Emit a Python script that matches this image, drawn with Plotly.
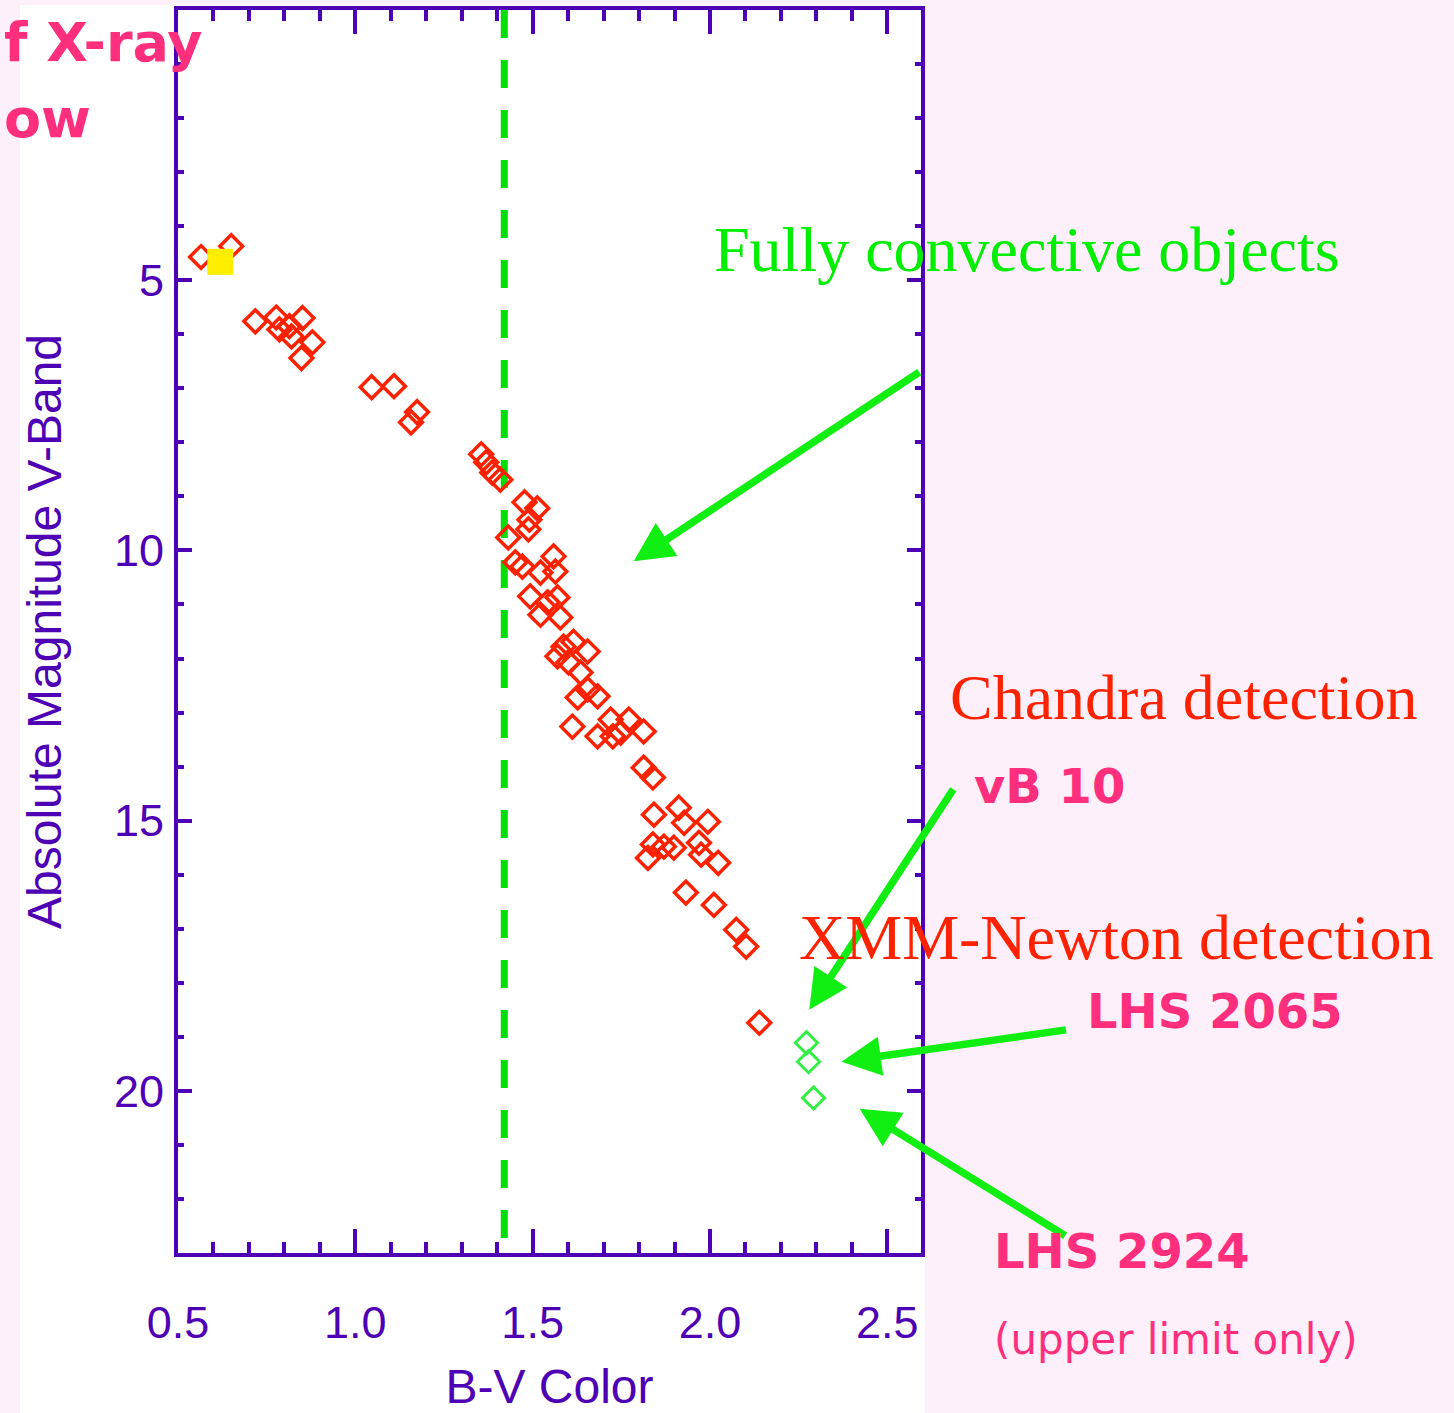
import plotly.graph_objects as go

# ---------------- data ----------------
# X-ray detected stars (red open diamonds): B-V colour and absolute V magnitude
red_bv = [0.565, 0.650, 0.718, 0.777, 0.851, 0.786, 0.814, 0.820, 0.879, 0.848,
          1.046, 1.109, 1.157, 1.174,
          1.355, 1.369, 1.386, 1.409,
          1.477, 1.513, 1.491, 1.431, 1.488,
          1.451, 1.471, 1.522, 1.559, 1.564,
          1.493, 1.542, 1.570, 1.522, 1.578,
          1.587, 1.615, 1.655, 1.570, 1.601, 1.635, 1.655, 1.683, 1.627,
          1.612, 1.683, 1.720, 1.748, 1.771, 1.813, 1.726,
          1.813, 1.839,
          1.842, 1.912, 1.927, 1.994,
          1.839, 1.870, 1.898, 1.825, 1.969, 1.975, 2.023,
          1.932, 2.011, 2.074, 2.102, 2.139]
red_mv = [4.57, 4.37, 5.76, 5.69, 5.70, 5.91, 5.85, 6.04, 6.15, 6.44,
          6.98, 6.96, 7.63, 7.44,
          8.22, 8.37, 8.56, 8.69,
          9.11, 9.22, 9.43, 9.76, 9.61,
          10.22, 10.30, 10.41, 10.11, 10.39,
          10.85, 10.96, 10.87, 11.19, 11.24,
          11.78, 11.69, 11.87, 11.96, 12.07, 12.26, 12.57, 12.70, 12.72,
          13.26, 13.44, 13.13, 13.37, 13.13, 13.35, 13.44,
          14.02, 14.20,
          14.89, 14.76, 15.04, 15.02,
          15.44, 15.48, 15.50, 15.69, 15.41, 15.63, 15.78,
          16.33, 16.56, 17.02, 17.33, 18.74]

# very late objects (green open diamonds)
green_bv = [2.272, 2.278, 2.292]
green_mv = [19.11, 19.46, 20.13]

# the Sun (yellow square)
sun_bv = [0.619]
sun_mv = [4.66]

# fully convective boundary
boundary_bv = 1.42
boundary_mv = [0, 23]

x_ticks = [0.5, 1.0, 1.5, 2.0, 2.5]
x_ticklabels = ["0.5", "1.0", "1.5", "2.0", "2.5"]
y_ticks = [0, 5, 10, 15, 20]
y_ticklabels = ["0", "5", "10", "15", "20"]

# arrow targets (data coords) and tail offsets (pixels)
arrow_bv = [1.785, 2.280, 2.371, 2.422]
arrow_mv = [10.20, 18.50, 19.46, 20.33]
arrow_dx = [287, 145, 226, 207]
arrow_dy = [-190, -222, -32, 128]

# ---------------- styling ----------------
W, H = 1454, 1413
L, R, T, B = 178, 921, 10, 1253
PURPLE = "#4d00b4"
RED = "#ff2200"
GREEN = "#00ee00"
PINK = "#ff2f7d"
BG = "#fdf0fb"


def px(xp):
    return (xp - L) / (R - L)


def py(yp):
    return (B - yp) / (B - T)


fig = go.Figure()

fig.add_trace(go.Scatter(
    x=[boundary_bv, boundary_bv], y=boundary_mv, mode="lines",
    line=dict(color="#00dd00", width=7, dash="28px,22px"),
    showlegend=False, hoverinfo="skip"))

fig.add_trace(go.Scatter(
    x=red_bv, y=red_mv, mode="markers",
    marker=dict(symbol="diamond-open", size=17.5, color=RED,
                line=dict(color=RED, width=3.5)),
    showlegend=False))

fig.add_trace(go.Scatter(
    x=green_bv, y=green_mv, mode="markers",
    marker=dict(symbol="diamond-open", size=17, color="#33ee44",
                line=dict(color="#33ee44", width=3)),
    showlegend=False))

fig.add_trace(go.Scatter(
    x=sun_bv, y=sun_mv, mode="markers",
    marker=dict(symbol="square", size=26, color="#ffee00",
                line=dict(width=0)),
    showlegend=False))

annotations = []
for bx, by, dx, dy in zip(arrow_bv, arrow_mv, arrow_dx, arrow_dy):
    annotations.append(dict(
        x=bx, y=by, xref="x", yref="y", ax=dx, ay=dy,
        axref="pixel", ayref="pixel", text="", showarrow=True,
        arrowhead=2, arrowsize=1.05, arrowwidth=7.5, arrowcolor="#11ee11"))


def label(text, xp, yp, size, color, family, bold=False, xanchor="left"):
    t = "<b>" + text + "</b>" if bold else text
    annotations.append(dict(
        x=px(xp), y=py(yp), xref="paper", yref="paper", text=t,
        showarrow=False, xanchor=xanchor, yanchor="middle",
        font=dict(size=size, color=color, family=family)))


SERIF = "Liberation Serif, Times New Roman, serif"
SANS = "DejaVu Sans, Verdana, sans-serif"
label("Fully convective objects", 712, 250, 64, GREEN, SERIF)
label("Chandra detection", 948, 697, 64, RED, SERIF)
label("XMM-Newton detection", 797, 937, 64, RED, SERIF)
label("vB 10", 972, 786, 48, PINK, SANS, bold=True)
label("LHS 2065", 1085, 1011, 48, PINK, SANS, bold=True)
label("LHS 2924", 992, 1251, 48, PINK, SANS, bold=True)
label("(upper limit only)", 992, 1340, 42, PINK, SANS)
label("f X-ray", 2, 42, 54, PINK, SANS, bold=True)
label("ow", 2, 118, 54, PINK, SANS, bold=True)

shapes = [dict(type="rect", xref="paper", yref="paper",
               x0=px(20), x1=px(925), y0=py(1430), y1=py(5),
               fillcolor="white", line=dict(width=0), layer="below")]

axis_font = dict(family="Liberation Sans, Arial, sans-serif", size=45, color=PURPLE)
title_font = dict(family="Liberation Sans, Arial, sans-serif", size=48, color=PURPLE)

fig.update_layout(
    width=W, height=H,
    margin=dict(l=L, r=W - R, t=T, b=H - B, pad=0, autoexpand=False),
    paper_bgcolor=BG, plot_bgcolor="white",
    annotations=annotations, shapes=shapes,
    xaxis=dict(
        range=[0.5, 2.595], tickvals=x_ticks, ticktext=x_ticklabels,
        ticks="inside", ticklen=24, tickwidth=3.5, tickcolor=PURPLE,
        minor=dict(dtick=0.1, tick0=0.5, ticks="inside", ticklen=11,
                   tickwidth=3.5, tickcolor=PURPLE, showgrid=False),
        showline=True, linewidth=4, linecolor=PURPLE, mirror="allticks",
        showgrid=False, zeroline=False, tickfont=axis_font,
        ticklabelstandoff=27, automargin=False,
        title=dict(text="B-V Color", font=title_font, standoff=27)),
    yaxis=dict(
        range=[23, 0], tickvals=y_ticks, ticktext=y_ticklabels,
        ticks="inside", ticklen=14, tickwidth=4, tickcolor=PURPLE,
        minor=dict(dtick=1, tick0=0, ticks="inside", ticklen=6,
                   tickwidth=4, tickcolor=PURPLE, showgrid=False),
        showline=True, linewidth=4, linecolor=PURPLE, mirror="allticks",
        showgrid=False, zeroline=False, tickfont=axis_font,
        ticklabelstandoff=1, automargin=False,
        title=dict(text="Absolute Magnitude V-Band", font=title_font, standoff=38)),
)

fig.write_html("out.html")
